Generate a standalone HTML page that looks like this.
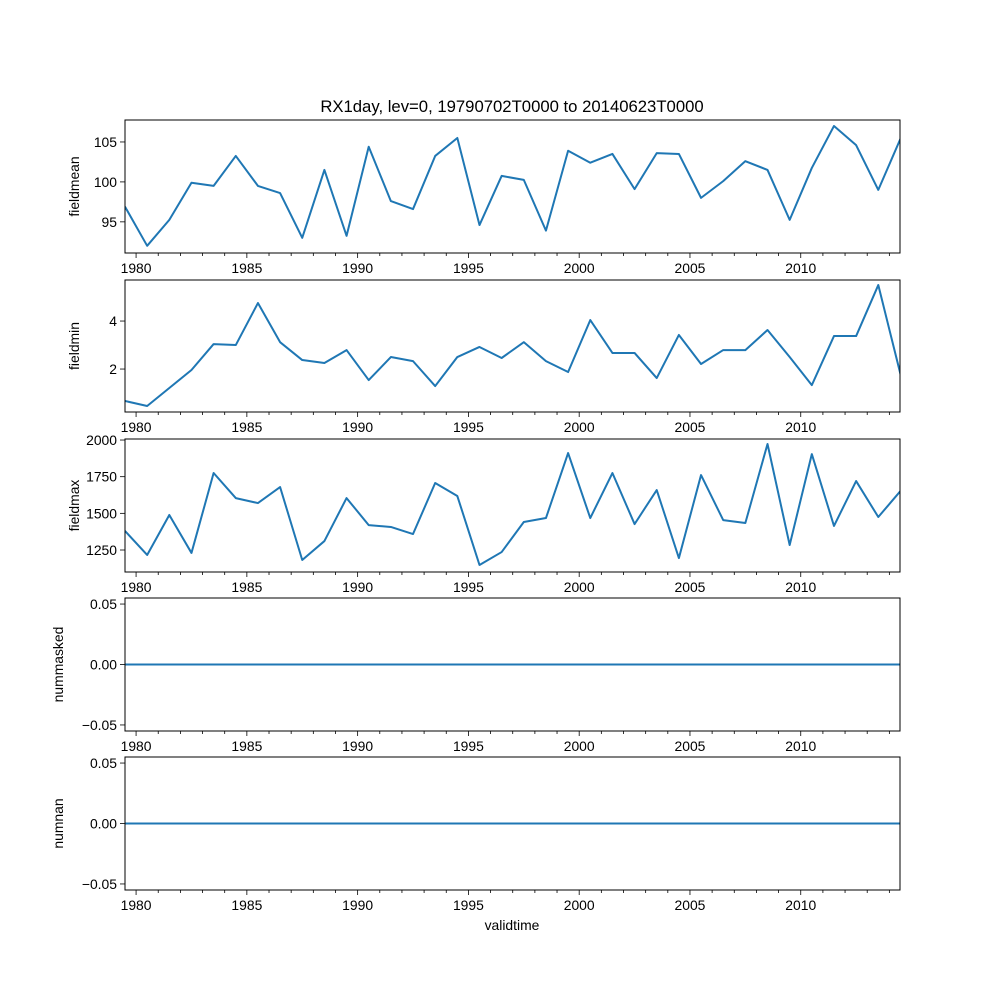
<!DOCTYPE html>
<html><head><meta charset="utf-8"><style>
body{margin:0;background:#fff}
svg text{font-family:"Liberation Sans","DejaVu Sans",sans-serif;font-size:13.9px;fill:#000}
</style></head><body>
<svg id="fig" width="1000" height="1000" xmlns="http://www.w3.org/2000/svg">
<rect width="1000" height="1000" fill="#fff"/>
<text x="512" y="112" text-anchor="middle" style="font-size:16.7px">RX1day, lev=0, 19790702T0000 to 20140623T0000</text>
<text x="512" y="930" text-anchor="middle">validtime</text>
</svg>
<script>
const years = [1979.5,1980.5,1981.5,1982.5,1983.5,1984.5,1985.5,1986.5,1987.5,1988.5,1989.5,1990.5,1991.5,1992.5,1993.5,1994.5,1995.5,1996.5,1997.5,1998.5,1999.5,2000.5,2001.5,2002.5,2003.5,2004.5,2005.5,2006.5,2007.5,2008.5,2009.5,2010.5,2011.5,2012.5,2013.5,2014.5];
const fieldmean = [96.9,92.0,95.25,99.9,99.5,103.25,99.5,98.6,93.0,101.5,93.25,104.4,97.6,96.6,103.25,105.5,94.6,100.75,100.25,93.9,103.9,102.4,103.5,99.1,103.6,103.5,98.0,100.1,102.6,101.5,95.25,101.75,107.0,104.6,99.0,105.4];
const fieldmin = [0.67,0.46,1.21,1.96,3.04,3.0,4.75,3.12,2.375,2.25,2.79,1.54,2.5,2.33,1.29,2.5,2.92,2.46,3.12,2.33,1.875,4.04,2.67,2.67,1.625,3.42,2.21,2.79,2.79,3.625,2.5,1.33,3.375,3.375,5.5,1.79];
const fieldmax = [1380,1216,1489,1230,1775,1604,1570,1679,1182,1311,1604,1420,1407,1359,1707,1618,1148,1236,1441,1468,1911,1468,1775,1427,1659,1195,1761,1454,1434,1973,1284,1904,1414,1720,1475,1652];
const nummasked = new Array(36).fill(0);
const numnan = new Array(36).fill(0);
const majorYears = [1980,1985,1990,1995,2000,2005,2010];
const panels = [
 {name:'fieldmean', data:fieldmean, top:120, bot:253, ymin:91.1, ymax:107.75, ticks:[95,100,105], labels:['95','100','105']},
 {name:'fieldmin', data:fieldmin, top:280, bot:412, ymin:0.21, ymax:5.71, ticks:[2,4], labels:['2','4']},
 {name:'fieldmax', data:fieldmax, top:439, bot:572, ymin:1100, ymax:2007, ticks:[1250,1500,1750,2000], labels:['1250','1500','1750','2000']},
 {name:'nummasked', data:nummasked, top:598, bot:731, ymin:-0.055, ymax:0.055, ticks:[-0.05,0,0.05], labels:['−0.05','0.00','0.05']},
 {name:'numnan', data:numnan, top:757, bot:890, ymin:-0.055, ymax:0.055, ticks:[-0.05,0,0.05], labels:['−0.05','0.00','0.05']}
];
const L=125,R=900,X0=1979.5,X1=2014.48;
const NS='http://www.w3.org/2000/svg';
const svg=document.getElementById('fig');
function xs(v){return L+(v-X0)/(X1-X0)*(R-L);}
function mk(tag,attrs,parent){const e=document.createElementNS(NS,tag);for(const k in attrs)e.setAttribute(k,attrs[k]);(parent||svg).appendChild(e);return e;}
panels.forEach(p=>{
  const g=mk('g',{});
  
  
  const ys=v=>p.bot-(v-p.ymin)/(p.ymax-p.ymin)*(p.bot-p.top);
  const cid='clip-'+p.name;
  const cp=mk('clipPath',{id:cid},g);mk('rect',{x:L,y:p.top,width:R-L,height:p.bot-p.top},cp);
  const pts=p.data.map((v,i)=>xs(years[i]).toFixed(2)+','+ys(v).toFixed(2)).join(' ');
  const line=mk('polyline',{points:pts,fill:'none',stroke:'#1f77b4','stroke-width':2,'stroke-linejoin':'round','clip-path':'url(#'+cid+')'},g);
  
  
  mk('rect',{x:L,y:p.top,width:R-L,height:p.bot-p.top,fill:'none',stroke:'#000','stroke-width':1},g);
  for(let y=1980;y<=2014;y++){mk('line',{x1:xs(y),x2:xs(y),y1:p.bot,y2:p.bot+(majorYears.includes(y)?5:3),stroke:'#000','stroke-width':0.8},g);}
  majorYears.forEach(y=>{const t=mk('text',{x:xs(y),y:p.bot+20,'text-anchor':'middle'},g);t.textContent=y;
    
    });
  p.ticks.forEach((v,i)=>{const y=ys(v);mk('line',{x1:L-5,x2:L,y1:y,y2:y,stroke:'#000','stroke-width':0.8},g);
    const t=mk('text',{x:L-8,y:y+5,'text-anchor':'end'},g);t.textContent=p.labels[i];
    
    });
  const cy=(p.top+p.bot)/2;
  const yl=mk('text',{x:0,y:0,'text-anchor':'middle',transform:'translate('+(p.name.startsWith('num')?63:79)+','+cy+') rotate(-90)'},g);
  yl.textContent=p.name;
  
  
});
</script>
</body></html>
